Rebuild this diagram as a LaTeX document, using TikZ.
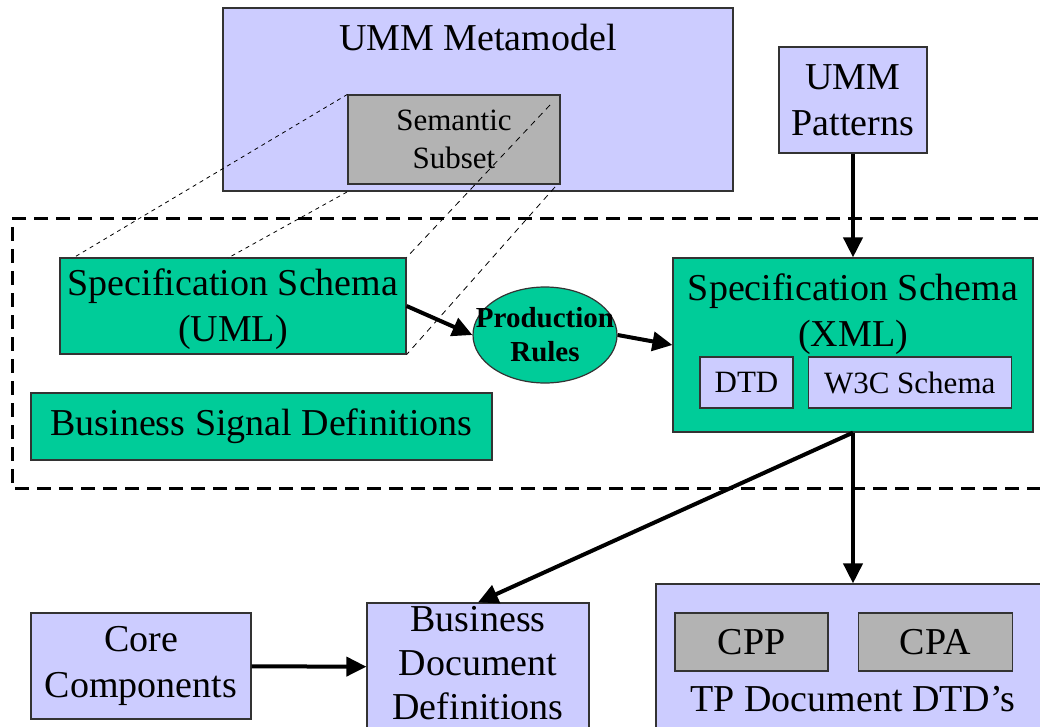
\documentclass[tikz,border=0pt]{standalone}
\usepackage{fontspec}
\setmainfont{Liberation Serif}
\usetikzlibrary{arrows.meta}
\usetikzlibrary{positioning}
\usetikzlibrary{shapes.geometric}

\definecolor{lavender}{RGB}{204,204,255}
\definecolor{seagreen}{RGB}{0,204,153}
\definecolor{subsetgray}{RGB}{179,179,179}

\begin{document}
\begin{tikzpicture}[->,>={Triangle[length=20pt,width=19pt]},x=1pt,y=-1pt,
			font=\fontsize{38}{46}\selectfont]
			\tikzstyle{box}=[draw=black!80,line width=1.2pt,rectangle,align=center,inner sep=0pt]
			\tikzstyle{lavbox}=[box,fill=lavender]
			\tikzstyle{greenbox}=[box,fill=seagreen]
			\tikzstyle{graybox}=[box,fill=subsetgray]
			\tikzstyle{flow}=[line width=4pt]
			\tikzstyle{proj}=[-,draw=black,line width=0.8pt,dash pattern=on 4pt off 4pt]
			
			\useasboundingbox (0,0) rectangle (1040,727);
			
			% specification frame
			\draw[-,line width=3pt,dash pattern=on 14pt off 8pt] (1060,219) -| (12,488) -- (1060,488);
			
			\node[lavbox,minimum width=510pt,minimum height=183pt,
			label={[anchor=base,yshift=-43pt]north:UMM Metamodel}] (meta) at (478,99.5) {};
			\node[graybox,minimum width=212pt,minimum height=89pt,font=\fontsize{31}{38}\selectfont] (subset) at (454,139.5) {Semantic\\Subset};
			\node[lavbox,minimum width=148pt,minimum height=106pt] (patterns) at (853,100) {UMM\\Patterns};
			
			\node[greenbox,minimum width=346pt,minimum height=96pt,
			label={[align=center,anchor=center,yshift=-3pt]center:Specification Schema\\(UML)}] (uml) at (233,306) {};
			\node[ellipse,draw=black!80,line width=1.2pt,fill=seagreen,minimum width=144pt,minimum height=96pt,
			label={[align=center,font=\fontsize{29}{34}\selectfont\bfseries]center:Production\\Rules}] (rules) at (545,335) {};
			\node[greenbox,minimum width=360pt,minimum height=174pt,
			label={[align=center,anchor=center,yshift=-56.5pt]north:Specification Schema\\(XML)}] (xml) at (853,345) {};
			\node[lavbox,minimum width=93pt,minimum height=51pt,font=\fontsize{31}{38}\selectfont] (dtd) at (746.5,382.5) {DTD};
			\node[lavbox,minimum width=203pt,minimum height=51pt,font=\fontsize{31}{38}\selectfont] (w3c) [right=14pt of dtd] {W3C Schema};
			\node[greenbox,minimum width=461pt,minimum height=67pt] (signals) at (261.5,426.5) {Business Signal Definitions};
			
			\node[lavbox,minimum width=220pt,minimum height=106pt] (core) at (141,666) {Core\\Components};
			\node[lavbox,minimum width=222pt,minimum height=128pt,
			label={[align=center,anchor=center,yshift=4pt,font=\fontsize{38}{44}\selectfont]center:Business\\Document\\Definitions}] (bdd) at (478,667) {};
			\node[lavbox,minimum width=394pt,minimum height=152pt,
			label={[anchor=base,yshift=-128pt]north:TP Document DTD’s}] (tpdoc) at (853,660) {};
			\node[graybox,minimum width=153pt,minimum height=58pt] (cpp) at (751.5,642) {CPP};
			\node[graybox,minimum width=154pt,minimum height=58pt] (cpa) [right=29pt of cpp] {CPA};
			
			% projection of the subset
			\coordinate (uml_a) at (73,258);
			\coordinate (uml_b) at (228,258);
			\coordinate (sub_b) at (347,192);
			\coordinate (sub_c) at (550,105);
			\coordinate (sub_d) at (555,187);
			\draw[proj] (subset.north west) -- (uml_a);
			\draw[proj] (sub_b) -- (uml_b);
			\draw[proj,dash pattern=on 6pt off 5pt] (sub_c) -- (uml.north east);
			\draw[proj,dash pattern=on 6pt off 5pt] (sub_d) -- (uml.south east);
			
			\path (uml.east) edge[flow] (rules.west)
			(rules.east) edge[flow] (xml.west)
			(patterns) edge[flow] (xml)
			(xml.south) edge[flow] (bdd.north)
			(xml) edge[flow] (tpdoc)
			(core) edge[flow] (bdd);
\end{tikzpicture}
\end{document}
